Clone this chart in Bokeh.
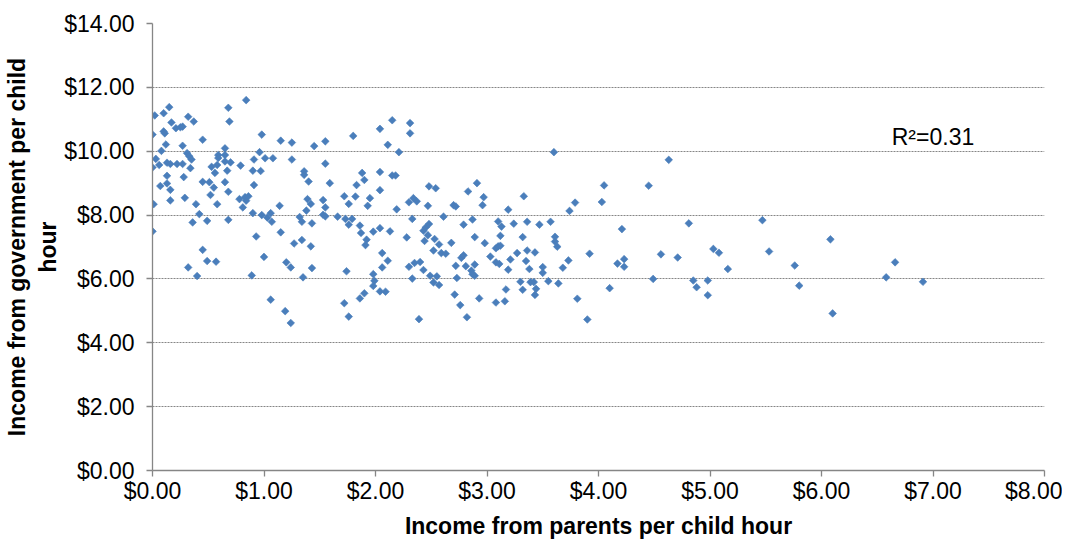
from bokeh.plotting import figure
from bokeh.models import Range1d, FixedTicker, NumeralTickFormatter, Label
from bokeh.embed import file_html
from bokeh.resources import INLINE

parents_income = [
    0.02, 0.00, 0.10, 0.15, 0.17, 0.10, 0.11, 0.21, 0.25, 0.27, 0.32, 0.37, 0.12, 0.08, 0.27, 0.45,
    0.68, 0.69, 0.84, 0.98, 1.15, 1.25, 1.45, 1.55, 0.03, 0.00, 0.06, 0.13, 0.16, 0.22, 0.27, 0.31,
    0.33, 0.35, 0.34, 0.13, 0.28, 0.07, 0.13, 0.16, 0.16, 0.29, 0.01, 0.00, 0.39, 0.42, 0.36, 0.49,
    0.45, 0.51, 0.55, 0.52, 0.53, 0.56, 0.58, 0.59, 0.59, 0.65, 0.65, 0.65, 0.70, 0.67, 0.65, 0.68,
    0.58, 0.68, 0.45, 0.49, 0.57, 0.32, 0.40, 0.79, 0.90, 0.97, 0.91, 0.96, 1.01, 1.08, 1.25, 0.91,
    0.78, 0.81, 0.83, 0.84, 0.86, 0.90, 0.98, 1.03, 1.06, 1.07, 1.14, 1.15, 0.93, 1.00, 0.89, 1.06,
    1.19, 1.24, 1.20, 1.24, 1.27, 1.34, 1.42, 1.43, 1.35, 1.36, 1.36, 1.40, 1.59, 1.55, 1.39, 1.42,
    1.38, 1.32, 1.34, 1.43, 1.53, 1.55, 1.53, 1.55, 1.66,
    1.80, 2.04, 2.15, 2.31, 2.31, 2.11, 2.21, 1.88, 1.90, 1.83, 2.04, 2.15, 2.18, 2.04, 1.72, 1.82,
    1.76, 1.95, 1.93, 2.19, 2.30, 2.34, 2.37, 2.47, 2.48, 2.54, 1.73, 1.76, 1.79, 1.86, 1.87, 1.92,
    1.91, 1.98, 2.04, 2.13, 2.33, 2.28, 2.43, 2.45, 2.48, 2.47, 2.44, 2.53, 2.57, 2.52, 2.59, 2.63,
    2.61, 2.06, 2.11, 2.06, 1.98, 1.99, 1.98, 2.04, 2.09, 1.90, 1.86, 1.74, 1.72, 1.76, 2.30, 2.35,
    2.40, 2.33, 2.43, 2.49, 2.55, 2.52, 2.57, 2.39, 2.68, 2.79, 2.83, 2.91, 2.97, 2.96, 2.70, 2.72,
    2.87, 2.89, 2.98, 2.72, 2.77, 2.79, 2.81, 2.73, 2.86, 2.87, 2.89, 2.89, 2.71, 2.76, 2.82, 2.93,
    3.03, 3.08, 3.10, 3.12, 3.10, 3.13, 3.12, 3.19, 3.24, 3.08, 3.11, 3.21, 3.19, 3.27, 3.32, 3.33,
    3.36, 3.36, 3.35, 3.38, 3.30, 3.32, 3.17, 3.16, 3.08,
    3.60, 4.63, 4.05, 4.45, 4.03, 3.79, 3.74, 3.47, 3.57, 3.61, 3.61, 3.63, 3.43, 3.50, 3.50, 3.39,
    3.42, 3.44, 3.43, 3.55, 3.64, 3.68, 3.73, 3.81, 3.90, 3.92, 4.10, 4.17, 4.23, 4.23, 4.21, 4.49,
    4.56, 4.71, 4.81, 4.85, 4.88, 4.98, 4.98, 5.03, 5.08,
    5.16, 5.47, 5.53, 5.76, 5.80, 6.08, 6.10, 6.58, 6.66, 6.91,
]

gov_income = [
    11.12, 10.52, 11.19, 11.38, 10.90, 10.62, 10.56, 10.72, 10.75, 10.77, 11.08, 10.93, 10.21, 10.01, 10.17, 10.36,
    11.36, 10.93, 11.60, 10.52, 10.33, 10.27, 10.16, 10.31, 9.76, 9.49, 9.57, 9.64, 9.60, 9.60, 9.60, 9.94,
    9.84, 9.74, 9.47, 9.23, 9.19, 8.91, 8.99, 8.79, 8.46, 8.54, 8.34, 7.49, 8.34, 8.03, 7.77, 7.82,
    9.04, 9.03, 8.86, 8.63, 9.51, 9.32, 9.57, 9.88, 9.79, 10.09, 9.88, 9.68, 9.65, 9.39, 9.03, 8.73,
    8.34, 7.85, 6.91, 6.56, 6.54, 6.36, 6.09, 9.55, 9.39, 9.38, 9.74, 9.97, 9.78, 9.78, 9.74, 8.94,
    8.50, 8.24, 8.56, 8.45, 8.59, 8.06, 8.00, 7.92, 8.06, 7.79, 8.29, 7.46, 7.33, 6.69, 6.11, 5.35,
    4.99, 4.62, 6.52, 6.36, 7.11, 7.22, 7.02, 6.34, 6.05, 9.37, 9.26, 9.05, 9.00, 9.61, 8.50, 8.35,
    8.14, 7.94, 7.79, 7.74, 8.47, 8.24, 8.01, 7.96, 7.95,
    10.48, 10.70, 10.97, 10.88, 10.56, 10.20, 9.97, 9.32, 9.10, 8.94, 9.35, 9.24, 9.24, 8.78, 8.59, 8.58,
    8.35, 8.53, 8.29, 8.18, 8.40, 8.53, 8.43, 8.29, 8.90, 8.84, 7.88, 7.70, 7.88, 7.67, 7.44, 7.23,
    7.06, 7.48, 7.59, 7.49, 7.88, 7.30, 7.51, 7.61, 7.72, 7.37, 7.19, 7.25, 7.08, 6.89, 6.81, 6.79,
    7.95, 6.81, 6.57, 6.36, 6.15, 5.94, 5.78, 5.61, 5.60, 5.55, 5.39, 6.24, 5.24, 4.82, 6.38, 6.50,
    6.53, 6.01, 6.28, 6.10, 6.08, 5.89, 5.81, 4.74, 7.13, 7.70, 8.74, 9.00, 8.56, 8.31, 8.31, 8.27,
    7.86, 7.31, 7.12, 6.41, 6.66, 6.74, 6.40, 6.03, 6.26, 6.15, 6.45, 6.10, 5.51, 5.18, 4.80, 5.39,
    6.70, 6.96, 7.02, 7.04, 7.80, 7.64, 7.35, 8.17, 7.73, 6.52, 6.47, 6.61, 6.29, 6.81, 7.31, 8.59,
    7.79, 6.89, 6.56, 6.31, 5.91, 5.66, 5.67, 5.30, 5.26,
    9.97, 9.73, 8.93, 8.92, 8.41, 8.39, 8.13, 7.70, 7.79, 7.32, 7.17, 7.01, 6.83, 6.37, 6.19, 5.90,
    5.90, 5.69, 5.50, 5.93, 5.86, 6.35, 6.58, 5.38, 4.73, 6.79, 5.71, 6.48, 6.62, 6.38, 7.56, 6.00,
    6.77, 6.67, 7.74, 5.95, 5.74, 5.95, 5.49, 6.94, 6.82,
    6.31, 7.84, 6.86, 6.42, 5.79, 7.24, 4.92, 6.05, 6.52, 5.91,
]

x_ticks = [0, 1, 2, 3, 4, 5, 6, 7, 8]
y_ticks = [0, 2, 4, 6, 8, 10, 12, 14]
x_title = "Income from parents per child hour"
y_title = "Income from government per child\nhour"
r2_text = "R\u00b2=0.31"

FONT = "Liberation Sans"
GRAY = "#868686"

p = figure(width=1062, height=541, output_backend="svg", toolbar_location=None,
           x_range=Range1d(x_ticks[0], x_ticks[-1]), y_range=Range1d(y_ticks[0], y_ticks[-1]),
           min_border_left=145, min_border_right=18, min_border_top=23, min_border_bottom=40)
p.outline_line_color = None
p.background_fill_color = "white"
p.border_fill_color = "white"

p.scatter(parents_income, gov_income, marker="square", angle=0.785398, size=5.4,
          fill_color="#4A7EBB", line_color="#4A7EBB", line_width=0.6)

for ax, ticks in ((p.xaxis[0], x_ticks), (p.yaxis[0], y_ticks)):
    ax.ticker = FixedTicker(ticks=ticks)
    ax.formatter = NumeralTickFormatter(format="$0.00")
    ax.axis_line_color = GRAY
    ax.axis_line_width = 1.3
    ax.major_tick_line_color = GRAY
    ax.major_tick_line_width = 1.3
    ax.major_tick_out = 6
    ax.major_tick_in = 0
    ax.minor_tick_line_color = None
    ax.major_label_text_font = FONT
    ax.major_label_text_font_size = "23px"
    ax.major_label_text_color = "black"
    ax.axis_label_text_font = FONT
    ax.axis_label_text_font_size = "23px"
    ax.axis_label_text_font_style = "bold"
    ax.axis_label_text_color = "black"

p.xaxis.axis_label = x_title
p.xaxis.major_label_standoff = 1
p.xaxis.axis_label_standoff = 6
p.yaxis.axis_label = y_title
p.yaxis.major_label_standoff = 12
p.yaxis.axis_label_standoff = 0

p.xgrid.visible = False
p.ygrid.grid_line_color = GRAY
p.ygrid.grid_line_dash = "2 1"
p.ygrid.grid_line_width = 1

p.add_layout(Label(x=6.63, y=10.45, text=r2_text, text_font=FONT, text_font_size="23px",
                   text_color="black", text_baseline="middle", text_align="left"))

open("out.html", "w").write(file_html(p, INLINE))
